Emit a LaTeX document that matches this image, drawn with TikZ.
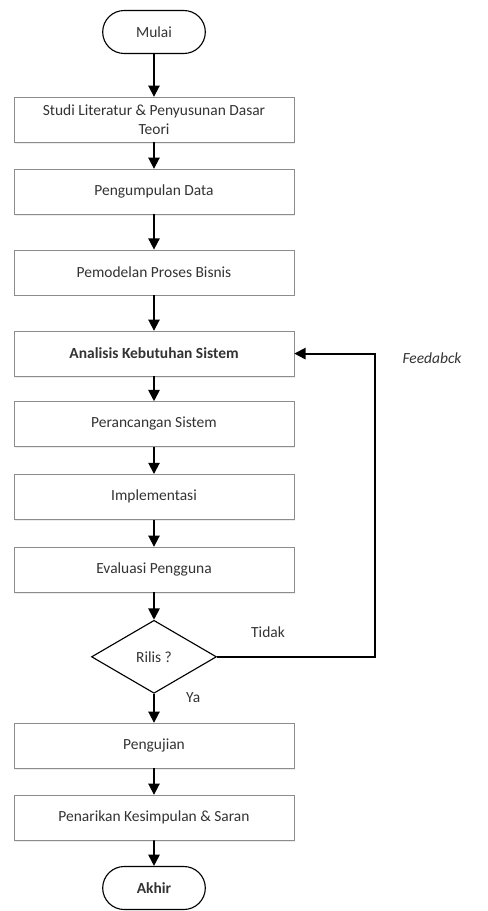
\documentclass[tikz,border=0pt]{standalone}
\usepackage{fontspec}
\setmainfont{Carlito}
\usetikzlibrary{shapes.geometric,shapes.misc,arrows.meta,shadows}
\tikzset{
	prosesbox/.style={draw=black!45,fill=white,minimum width=7cm,minimum height=1.125cm,align=center,text=black!80,font=\fontsize{11}{13}\selectfont,drop shadow={shadow xshift=1pt,shadow yshift=-1pt,fill=black!15}},
	terminal/.style={draw,thick,rounded rectangle,minimum width=2.8cm,minimum height=1.075cm,text=black!80,font=\fontsize{11}{13}\selectfont},
	keputusan/.style={draw,thick,diamond,minimum width=3.125cm,minimum height=1.825cm,inner sep=0pt,text=black!80,font=\fontsize{11}{13}\selectfont},
	alur/.style={line width=1.3pt,-{Triangle[length=8pt,width=8pt]}}
}
\begin{document}
\begin{tikzpicture}
		\useasboundingbox (0,0) rectangle (12.175,-22.775);
		\node[terminal] (mulai) at (3.85,-0.8) {Mulai};
		\node[prosesbox] (studi) at (3.85,-2.99) {Studi Literatur \& Penyusunan Dasar\\Teori};
		\node[prosesbox] (data) at (3.85,-4.79) {Pengumpulan Data};
		\node[prosesbox] (model) at (3.85,-6.81) {Pemodelan Proses Bisnis};
		\node[prosesbox,font=\fontsize{11}{13}\selectfont\bfseries] (analisis) at (3.85,-8.84) {Analisis Kebutuhan Sistem};
		\node[prosesbox] (rancang) at (3.85,-10.6) {Perancangan Sistem};
		\node[prosesbox] (impl) at (3.85,-12.42) {Implementasi};
		\node[prosesbox] (eval) at (3.85,-14.24) {Evaluasi Pengguna};
		\node[keputusan] (rilis) at (3.85,-16.42) {Rilis ?};
		\node[prosesbox] (uji) at (3.85,-18.64) {Pengujian};
		\node[prosesbox] (simpul) at (3.85,-20.44) {Penarikan Kesimpulan \& Saran};
		\node[terminal,font=\fontsize{11}{13}\selectfont\bfseries] (akhir) at (3.85,-22.2) {Akhir};
		\coordinate (balik) at (9.375,-16.42);
		\draw[alur] (mulai) -- (studi);
		\draw[alur] (studi) -- (data);
		\draw[alur] (data) -- (model);
		\draw[alur] (model) -- (analisis);
		\draw[alur] (analisis) -- (rancang);
		\draw[alur] (rancang) -- (impl);
		\draw[alur] (impl) -- (eval);
		\draw[alur] (eval) -- (rilis);
		\draw[alur] (rilis) -- (uji);
		\draw[alur] (uji) -- (simpul);
		\draw[alur] (simpul) -- (akhir);
		\draw[alur] (rilis.east) -- (balik) |- (analisis.east);
		\node[text=black!80,font=\fontsize{11}{13}\selectfont] (tidak) at (6.7,-15.8) {Tidak};
		\node[text=black!80,font=\fontsize{11}{13}\selectfont] (ya) at (4.83,-17.45) {Ya};
		\node[text=black!80,font=\fontsize{11}{13}\selectfont\itshape] (umpan) at (10.8,-8.95) {Feedabck};
	\end{tikzpicture}
\end{document}
